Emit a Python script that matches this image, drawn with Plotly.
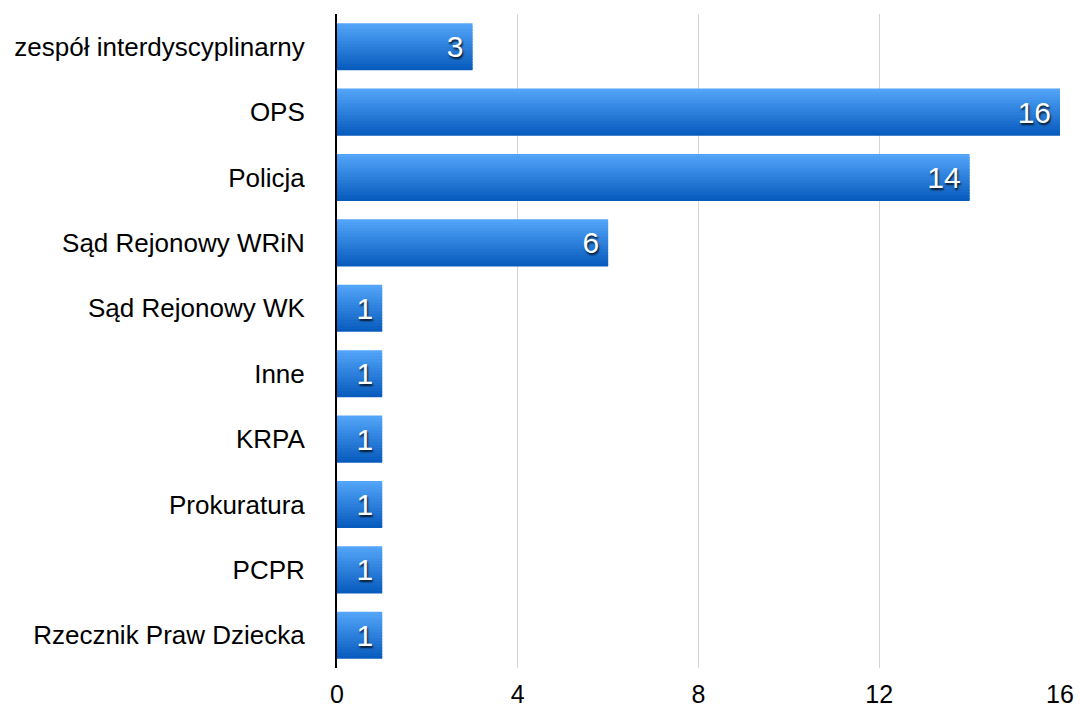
import plotly.graph_objects as go

categories = ["zespół interdyscyplinarny", "OPS", "Policja", "Sąd Rejonowy WRiN",
              "Sąd Rejonowy WK", "Inne", "KRPA", "Prokuratura", "PCPR",
              "Rzecznik Praw Dziecka"]
values = [3, 16, 14, 6, 1, 1, 1, 1, 1, 1]
x_ticks = [0, 4, 8, 12, 16]

top_rgb = (82, 164, 248)
bot_rgb = (8, 92, 190)
n_strips = 16
bar_w = 0.72
step = bar_w / n_strips

fig = go.Figure()
for i in range(n_strips):
    t = i / (n_strips - 1)
    c = tuple(round(top_rgb[k] + (bot_rgb[k] - top_rgb[k]) * t) for k in range(3))
    off = -bar_w / 2 + i * step
    w = min(step * 1.6, bar_w / 2 - off)
    fig.add_trace(go.Bar(
        y=categories, x=values, orientation="h",
        offset=off, width=w,
        marker=dict(color="rgb(%d,%d,%d)" % c, line=dict(width=0)),
        hoverinfo="skip", showlegend=False,
    ))

fig.add_trace(go.Bar(
    y=categories, x=values, orientation="h",
    width=bar_w,
    marker=dict(color="rgba(0,0,0,0)", line=dict(width=0)),
    text=[str(v) + "\u2009" for v in values], textposition="inside",
    insidetextanchor="end",
    textfont=dict(family="Liberation Sans, Arial, sans-serif", size=30, color="white",
                  shadow="1px 2px 2px rgba(0,0,0,0.8)"),
    cliponaxis=False, showlegend=False,
))

fig.update_layout(
    barmode="overlay",
    width=1081, height=711,
    margin=dict(l=337, r=21, t=14, b=43, autoexpand=False),
    paper_bgcolor="white", plot_bgcolor="white",
    font=dict(family="Liberation Sans, Arial, sans-serif", size=26, color="black"),
    uniformtext=dict(minsize=10, mode="show"),
)
fig.update_xaxes(range=[0, 16], tickvals=x_ticks, showgrid=True, gridcolor="#d4d4d4",
                 gridwidth=1, zeroline=False, showline=False, ticks="", automargin=False,
                 ticklabelstandoff=9, tickfont=dict(size=25))
fig.update_yaxes(autorange="reversed", showline=True, linecolor="black", linewidth=2,
                 ticks="", ticklabelstandoff=25, showgrid=False, automargin=False,
                 tickfont=dict(size=26))

fig.write_html("out.html", config={"displayModeBar": False},
               post_script="document.body.style.margin='0';document.body.style.overflow='hidden';")
